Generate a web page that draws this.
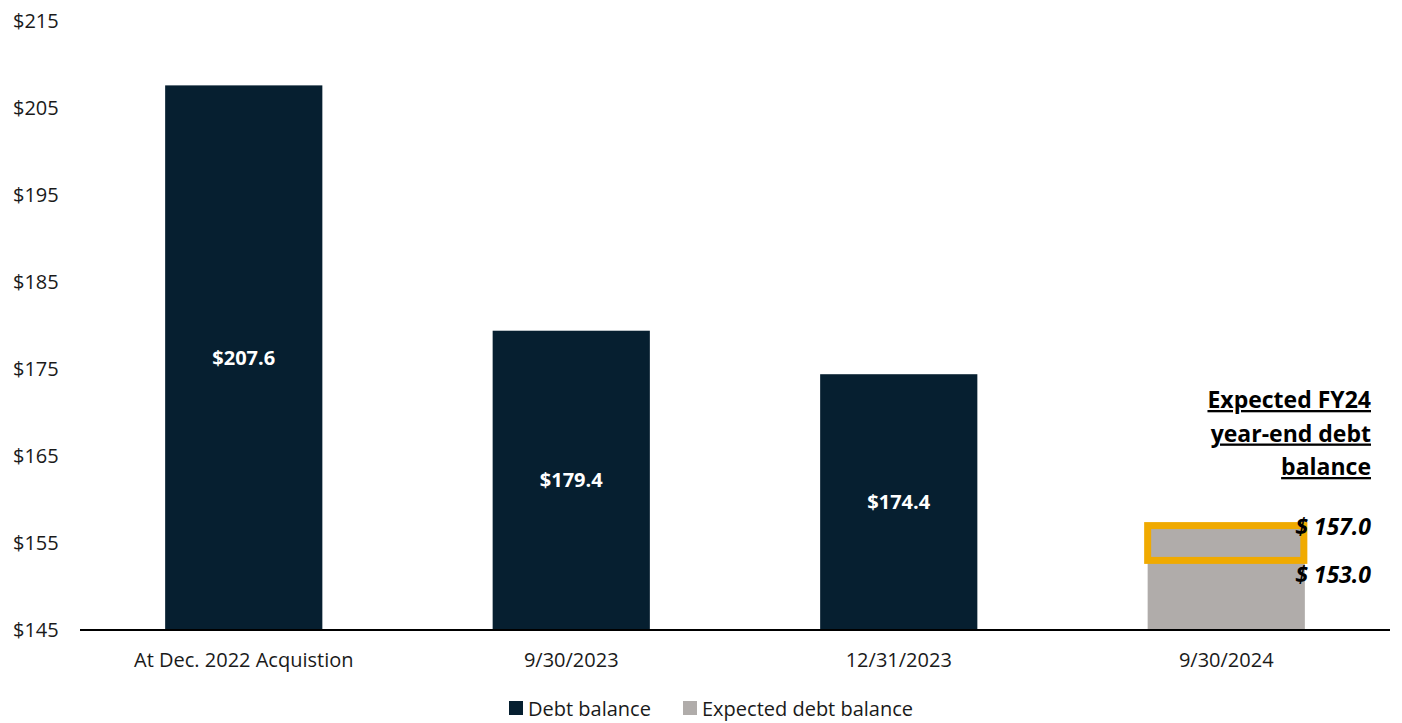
<!DOCTYPE html>
<html>
<head>
<meta charset="utf-8">
<script src="https://cdn.jsdelivr.net/npm/d3@7"></script>
<style>
  body { margin: 0; background: #fff; font-family: "Open Sans", sans-serif; }
  .tick-label { font-size: 20px; fill: #1a1a1a; }
  .cat-label { font-size: 20px; fill: #1a1a1a; }
  .bar-label { font-size: 20px; font-weight: 700; fill: #fff; }
  .note { font-size: 23px; font-weight: 700; fill: #000; }
  .legend-label { font-size: 20px; fill: #1a1a1a; }
</style>
</head>
<body>
<div id="wrapper"></div>
<script>
// data
const categories = ["At Dec. 2022 Acquistion", "9/30/2023", "12/31/2023", "9/30/2024"];
const debtBalance = [207.6, 179.4, 174.4, null];
const expectedBalance = [null, null, null, 157.0];
const expectedRange = [153.0, 157.0];
const yTicks = [145, 155, 165, 175, 185, 195, 205, 215];
const noteLines = ["Expected FY24", "year-end debt", "balance"];
const seriesNames = ["Debt balance", "Expected debt balance"];

function drawChart() {
  const width = 1402;
  const height = 723;
  let dimensions = {
    width: width,
    height: height,
    margin: { top: 21, right: 12, bottom: 93, left: 80 },
  };
  dimensions.boundedWidth = dimensions.width - dimensions.margin.left - dimensions.margin.right;
  dimensions.boundedHeight = dimensions.height - dimensions.margin.top - dimensions.margin.bottom;

  const colors = { debt: "#061f30", expected: "#b0acaa", box: "#f0aa00" };

  const wrapper = d3
    .select("#wrapper")
    .append("svg")
    .attr("width", dimensions.width)
    .attr("height", dimensions.height);

  const bounds = wrapper
    .append("g")
    .attr("transform", `translate(${dimensions.margin.left},${dimensions.margin.top})`);

  // scales
  const xScale = d3
    .scaleBand()
    .domain(categories)
    .range([0, dimensions.boundedWidth])
    .paddingInner(0.52)
    .paddingOuter(0.26);

  const yScale = d3
    .scaleLinear()
    .domain([145, 215])
    .range([dimensions.boundedHeight, 0]);

  // y tick labels (no axis line)
  bounds
    .selectAll(".tick-label")
    .data(yTicks)
    .join("text")
    .attr("class", "tick-label")
    .attr("x", -67)
    .attr("y", (d) => yScale(d))
    .attr("dy", "0.35em")
    .text((d) => `$${d}`);

  // bars
  const debtData = categories.map((c, i) => ({ cat: c, value: debtBalance[i] })).filter((d) => d.value != null);
  const expData = categories.map((c, i) => ({ cat: c, value: expectedBalance[i] })).filter((d) => d.value != null);

  bounds
    .selectAll(".debt-bar")
    .data(debtData)
    .join("rect")
    .attr("class", "debt-bar")
    .attr("x", (d) => xScale(d.cat))
    .attr("width", xScale.bandwidth())
    .attr("y", (d) => yScale(d.value))
    .attr("height", (d) => yScale(145) - yScale(d.value))
    .attr("fill", colors.debt);

  bounds
    .selectAll(".exp-bar")
    .data(expData)
    .join("rect")
    .attr("class", "exp-bar")
    .attr("x", (d) => xScale(d.cat))
    .attr("width", xScale.bandwidth())
    .attr("y", (d) => yScale(d.value))
    .attr("height", (d) => yScale(145) - yScale(d.value))
    .attr("fill", colors.expected);

  // value labels inside bars
  bounds
    .selectAll(".bar-label")
    .data(debtData)
    .join("text")
    .attr("class", "bar-label")
    .attr("x", (d) => xScale(d.cat) + xScale.bandwidth() / 2)
    .attr("y", (d) => (yScale(d.value) + yScale(145)) / 2)
    .attr("dy", "0.35em")
    .attr("text-anchor", "middle")
    .text((d) => `$${d.value.toFixed(1)}`);

  // highlighted range box
  const lastCat = categories[categories.length - 1];
  bounds
    .append("rect")
    .attr("x", xScale(lastCat))
    .attr("width", xScale.bandwidth() - 1)
    .attr("y", yScale(expectedRange[1]))
    .attr("height", yScale(expectedRange[0]) - yScale(expectedRange[1]))
    .attr("fill", "none")
    .attr("stroke", colors.box)
    .attr("stroke-width", 7);

  // baseline
  bounds
    .append("line")
    .attr("x1", 0)
    .attr("x2", dimensions.boundedWidth)
    .attr("y1", yScale(145))
    .attr("y2", yScale(145))
    .attr("stroke", "#000")
    .attr("stroke-width", 2);

  // category labels
  bounds
    .selectAll(".cat-label")
    .data(categories)
    .join("text")
    .attr("class", "cat-label")
    .attr("x", (d) => xScale(d) + xScale.bandwidth() / 2)
    .attr("y", yScale(145) + 37)
    .attr("text-anchor", "middle")
    .text((d) => d);

  // annotation
  const noteX = 1371 - dimensions.margin.left;
  bounds
    .selectAll(".note-line")
    .data(noteLines)
    .join("text")
    .attr("class", "note note-line")
    .attr("x", noteX)
    .attr("y", (d, i) => 387 + i * 33.5)
    .attr("text-anchor", "end")
    .attr("text-decoration", "underline")
    .text((d) => d);

  bounds
    .selectAll(".range-label")
    .data(expectedRange.slice().reverse())
    .join("text")
    .attr("class", "note range-label")
    .attr("x", noteX)
    .attr("y", (d, i) => 514 + i * 48)
    .attr("text-anchor", "end")
    .style("font-style", "italic")
    .text((d) => `$ ${d.toFixed(1)}`);

  // legend
  const legend = wrapper.append("g").attr("transform", "translate(509,716)");
  const legendX = [0, 174];
  const legendColors = [colors.debt, colors.expected];
  seriesNames.forEach((name, i) => {
    legend
      .append("rect")
      .attr("x", legendX[i])
      .attr("y", -15)
      .attr("width", 14)
      .attr("height", 14)
      .attr("fill", legendColors[i]);
    legend
      .append("text")
      .attr("class", "legend-label")
      .attr("x", legendX[i] + 19)
      .attr("y", 0)
      .text(name);
  });
}
drawChart();
</script>
</body>
</html>
